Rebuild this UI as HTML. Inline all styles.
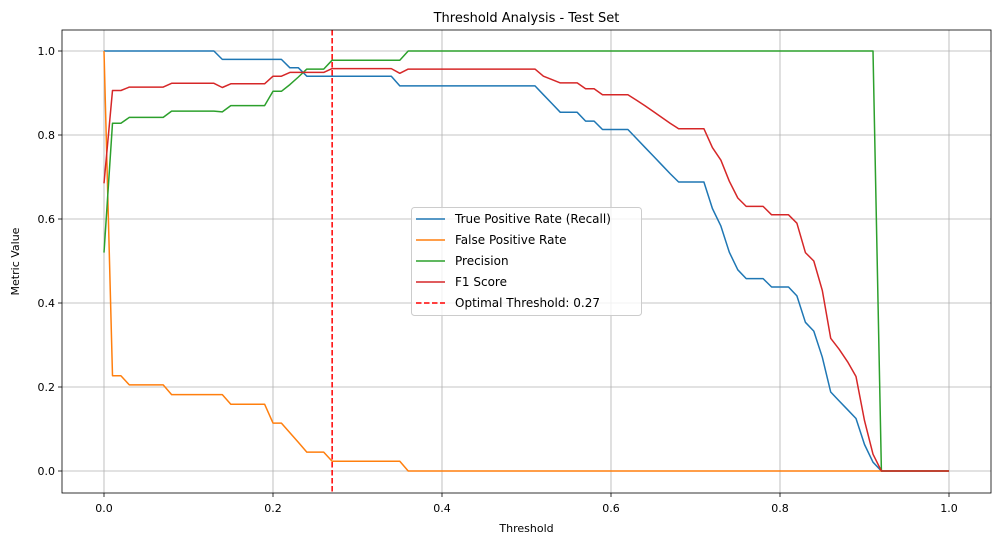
<!DOCTYPE html>
<html><head><meta charset="utf-8"><style>
body{margin:0;background:#fff;}
svg text{font-family:"DejaVu Sans","Liberation Sans",sans-serif;}
</style></head><body>
<svg id="chart" width="1001" height="545" xmlns="http://www.w3.org/2000/svg">
<rect width="1001" height="545" fill="#fff"/>
<g id="grid"></g><g id="series"></g><g id="axes"></g><g id="legend"></g>
</svg>
<script>
const thresholds = Array.from({length:101},(_,i)=>i/100);
const tpr = [1,1,1,1,1,1,1,1,1,1,1,1,1,1,0.98,0.98,0.98,0.98,0.98,0.98,0.98,0.98,0.96,0.96,0.94,0.94,0.94,0.94,0.94,0.94,0.94,0.94,0.94,0.94,0.94,0.917,0.917,0.917,0.917,0.917,0.917,0.917,0.917,0.917,0.917,0.917,0.917,0.917,0.917,0.917,0.917,0.917,0.896,0.875,0.854,0.854,0.854,0.833,0.833,0.813,0.813,0.813,0.813,0.792,0.771,0.75,0.729,0.708,0.688,0.688,0.688,0.688,0.625,0.583,0.521,0.479,0.458,0.458,0.458,0.438,0.438,0.438,0.417,0.354,0.333,0.271,0.188,0.167,0.146,0.125,0.063,0.021,0,0,0,0,0,0,0,0,0];
const fpr = [1,0.227,0.227,0.205,0.205,0.205,0.205,0.205,0.182,0.182,0.182,0.182,0.182,0.182,0.182,0.159,0.159,0.159,0.159,0.159,0.114,0.114,0.091,0.068,0.045,0.045,0.045,0.023,0.023,0.023,0.023,0.023,0.023,0.023,0.023,0.023,0,0,0,0,0,0,0,0,0,0,0,0,0,0,0,0,0,0,0,0,0,0,0,0,0,0,0,0,0,0,0,0,0,0,0,0,0,0,0,0,0,0,0,0,0,0,0,0,0,0,0,0,0,0,0,0,0,0,0,0,0,0,0,0,0];
const precision = [0.52,0.828,0.828,0.842,0.842,0.842,0.842,0.842,0.857,0.857,0.857,0.857,0.857,0.857,0.855,0.87,0.87,0.87,0.87,0.87,0.904,0.904,0.92,0.938,0.957,0.957,0.957,0.978,0.978,0.978,0.978,0.978,0.978,0.978,0.978,0.978,1,1,1,1,1,1,1,1,1,1,1,1,1,1,1,1,1,1,1,1,1,1,1,1,1,1,1,1,1,1,1,1,1,1,1,1,1,1,1,1,1,1,1,1,1,1,1,1,1,1,1,1,1,1,1,1,0,0,0,0,0,0,0,0,0];
const f1 = [0.685,0.906,0.906,0.914,0.914,0.914,0.914,0.914,0.923,0.923,0.923,0.923,0.923,0.923,0.913,0.922,0.922,0.922,0.922,0.922,0.94,0.94,0.949,0.949,0.949,0.949,0.949,0.958,0.958,0.958,0.958,0.958,0.958,0.958,0.958,0.947,0.957,0.957,0.957,0.957,0.957,0.957,0.957,0.957,0.957,0.957,0.957,0.957,0.957,0.957,0.957,0.957,0.94,0.932,0.924,0.924,0.924,0.91,0.91,0.896,0.896,0.896,0.896,0.883,0.87,0.856,0.842,0.828,0.815,0.815,0.815,0.815,0.77,0.74,0.69,0.65,0.63,0.63,0.63,0.61,0.61,0.61,0.59,0.52,0.50,0.43,0.316,0.29,0.26,0.225,0.12,0.04,0,0,0,0,0,0,0,0,0];
const optimal = 0.27;
const xTicks = [0,0.2,0.4,0.6,0.8,1.0];
const xTickLabels = ["0.0","0.2","0.4","0.6","0.8","1.0"];
const yTicks = [0,0.2,0.4,0.6,0.8,1.0];
const yTickLabels = ["0.0","0.2","0.4","0.6","0.8","1.0"];

const L=62,R=991,T=30,B=493;
const X=v=>104+v*845, Y=v=>471-v*420;
const NS="http://www.w3.org/2000/svg";
function mk(tag,attrs,parent,text){const e=document.createElementNS(NS,tag);for(const k in attrs)e.setAttribute(k,attrs[k]);if(text!==undefined)e.textContent=text;parent.appendChild(e);return e;}
const grid=document.getElementById('grid'),series=document.getElementById('series'),axes=document.getElementById('axes'),legend=document.getElementById('legend');
xTicks.forEach((t,i)=>{
  const g=mk('line',{x1:X(t),x2:X(t),y1:T,y2:B,stroke:'#b0b0b0','stroke-width':0.8},grid);
  
  
  mk('line',{x1:X(t),x2:X(t),y1:B,y2:B+4,stroke:'#000','stroke-width':0.8},axes);
  const tx=mk('text',{x:X(t),y:B+19,'font-size':11,'text-anchor':'middle',fill:'#000'},axes,xTickLabels[i]);
  
  
});
yTicks.forEach((t,i)=>{
  const g=mk('line',{x1:L,x2:R,y1:Y(t),y2:Y(t),stroke:'#b0b0b0','stroke-width':0.8},grid);
  
  
  mk('line',{x1:L-4,x2:L,y1:Y(t),y2:Y(t),stroke:'#000','stroke-width':0.8},axes);
  const tx=mk('text',{x:L-7,y:Y(t)+4,'font-size':11,'text-anchor':'end',fill:'#000'},axes,yTickLabels[i]);
  
  
});
const frame=mk('rect',{x:L,y:T,width:R-L,height:B-T,fill:'none',stroke:'#000','stroke-width':0.8},axes);


const title=mk('text',{x:(L+R)/2,y:22,'font-size':13,'text-anchor':'middle',fill:'#000'},axes,'Threshold Analysis - Test Set');


const xt=mk('text',{x:(L+R)/2,y:532,'font-size':11,'text-anchor':'middle',fill:'#000'},axes,'Threshold');


const yt=mk('text',{x:0,y:0,'font-size':11,'text-anchor':'middle',fill:'#000',transform:`translate(19,${(T+B)/2}) rotate(-90)`},axes,'Metric Value');



const defs=[[tpr,'#1f77b4','tpr-line'],[fpr,'#ff7f0e','fpr-line'],[precision,'#2ca02c','precision-line'],[f1,'#d62728','f1-line']];
defs.forEach(([arr,c,n])=>{
  const pts=arr.map((v,i)=>X(thresholds[i]).toFixed(1)+','+Y(v).toFixed(1)).join(' ');
  const p=mk('polyline',{points:pts,fill:'none',stroke:c,'stroke-width':1.5,'stroke-linejoin':'round'},series);
  
  
});
const ol=mk('line',{x1:X(optimal),x2:X(optimal),y1:T,y2:B,stroke:'#ff0000','stroke-width':1.5,'stroke-dasharray':'5.5,2.5'},series);



const lb=mk('rect',{x:411.5,y:207.5,width:230,height:108,rx:3,fill:'#fff','fill-opacity':0.8,stroke:'#ccc'},legend);


const entries=[['True Positive Rate (Recall)','#1f77b4',''],['False Positive Rate','#ff7f0e',''],['Precision','#2ca02c',''],['F1 Score','#d62728',''],['Optimal Threshold: 0.27','#ff0000','5.5,2.5']];
entries.forEach(([t,c,d],i)=>{
  const y=219+i*21;
  const ln=mk('line',{x1:416,x2:445,y1:y,y2:y,stroke:c,'stroke-width':1.5,'stroke-dasharray':d||'none'},legend);
  
  
  const tx=mk('text',{x:455,y:y+4,'font-size':12,fill:'#000'},legend,t);
  
  
});
</script>
</body></html>
